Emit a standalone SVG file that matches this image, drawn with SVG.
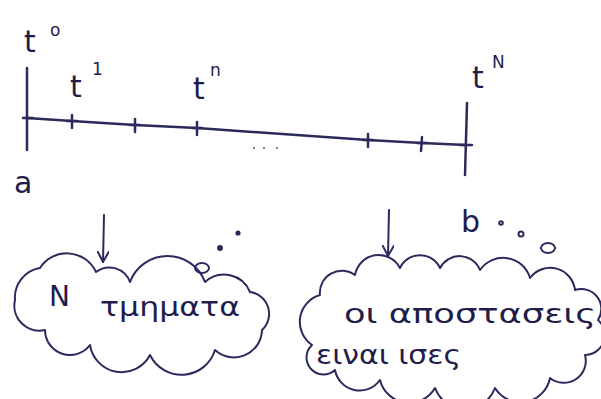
<svg xmlns="http://www.w3.org/2000/svg" width="601" height="399" viewBox="0 0 601 399">
<style>
.ln{stroke:#2b2a5e;stroke-width:2.5;fill:none;stroke-linecap:round}
.thin{stroke:#2b2a5e;stroke-width:2;fill:none;stroke-linecap:round;stroke-linejoin:round}
.tx{font-family:"DejaVu Sans","Noto Sans",sans-serif;fill:#1f1d4a}
.lab{font-size:30px}
.sup{font-size:17px}
.cl{font-size:26px}
</style>
<defs>
<marker id="ah" viewBox="0 0 12 12" refX="11" refY="6" markerWidth="12" markerHeight="12" orient="auto" markerUnits="userSpaceOnUse">
<path d="M0,0 L11,6 L0,12" fill="none" stroke="#2b2a5e" stroke-width="2"/>
</marker>
</defs>
<rect width="601" height="399" fill="#ffffff"/>
<g id="axis">
<path class="ln" d="M27,118 L72,121 L135,125 L197,128 L368,140 L422,143 L466,145"/>
<path class="ln" d="M27,68 L27,150"/>
<path class="ln" d="M467,103 L465,175"/>
<g class="ln" stroke-width="3.5">
<path d="M72,115 L72,128"/><path d="M135,119 L135,132"/><path d="M197,122 L197,135"/><path d="M368,134 L368,147"/><path d="M422,137 L421,151"/>
<path d="M67,121 L77,121"/><path d="M130,125 L140,125"/><path d="M192,128 L202,128"/><path d="M363,140 L373,140"/><path d="M417,143 L427,143"/>
<path d="M460,145 L472,145"/><path d="M23,118 L33,118"/>
</g>
<g fill="#5a5a80"><circle cx="254" cy="148" r="1"/><circle cx="264" cy="148" r="1"/><circle cx="277" cy="148" r="1"/></g>
</g>
<g id="labels">
<text class="tx lab" x="24" y="52">t</text><text class="tx sup" x="50" y="36">o</text>
<text class="tx lab" x="70" y="97">t</text><text class="tx sup" x="92" y="75">1</text>
<text class="tx lab" x="193" y="99">t</text><text class="tx sup" x="210" y="76">n</text>
<text class="tx lab" x="472" y="88">t</text><text class="tx sup" x="492" y="68">N</text>
<text class="tx lab" x="14" y="193">a</text>
<text class="tx lab" x="461" y="232">b</text>
</g>
<g id="connectors">
<path class="thin" d="M104,215 L103,262" marker-end="url(#ah)"/>
<path class="thin" d="M389,210 L388,256" marker-end="url(#ah)"/>
</g>
<g id="bubbles" class="thin">
<ellipse cx="202" cy="268" rx="7" ry="5"/>
<circle cx="220" cy="248" r="2" fill="#2b2a5e"/>
<circle cx="238" cy="233" r="1.6" fill="#2b2a5e"/>
<circle cx="501" cy="223" r="1.8"/>
<circle cx="521" cy="234" r="2.5"/>
<ellipse cx="548" cy="248" rx="7" ry="5"/>
</g>
<g id="cloud-left">
<path class="thin" d="M15,300 A30,30 0 0 1 40,268 A32,32 0 0 1 96,272 A22,22 0 0 1 130,282 A40,40 0 0 1 205,282 A28,28 0 0 1 250,292 A22,22 0 0 1 262,330 A28,28 0 0 1 215,350 A35,35 0 0 1 150,355 A32,32 0 0 1 90,345 A25,25 0 0 1 45,330 A25,25 0 0 1 15,300 Z"/>
<text class="tx" x="49" y="306" font-size="28">Ν</text>
<text class="tx cl" x="100" y="316" textLength="140" lengthAdjust="spacingAndGlyphs">τμηματα</text>
</g>
<g id="cloud-right">
<path class="thin" d="M320,295 A22,22 0 0 1 355,275 A24,24 0 0 1 400,268 A22,22 0 0 1 440,268 A22,22 0 0 1 480,270 A28,28 0 0 1 530,278 A25,25 0 0 1 575,290 A20,20 0 0 1 598,320 A20,20 0 0 1 585,355 A22,22 0 0 1 550,378 A30,30 0 0 1 495,388 A32,32 0 0 1 435,388 A30,30 0 0 1 380,380 A25,25 0 0 1 335,370 A14,14 0 0 1 312,345 A28,28 0 0 1 320,295 Z"/>
<text class="tx cl" x="344" y="323" textLength="252" lengthAdjust="spacingAndGlyphs">οι  αποστασεις</text>
<text class="tx cl" x="316" y="364" textLength="145" lengthAdjust="spacingAndGlyphs">ειναι  ισες</text>
</g>
</svg>
